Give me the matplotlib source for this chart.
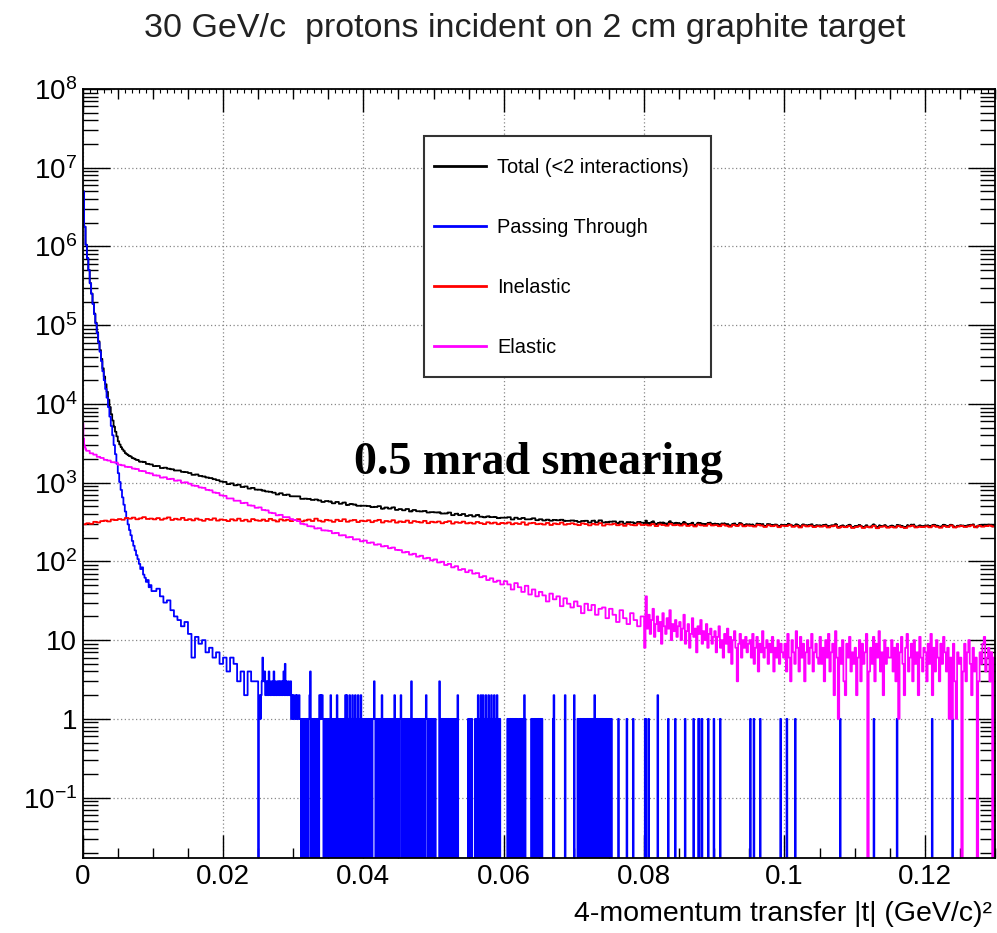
import numpy as np
import matplotlib
matplotlib.use("Agg")
import matplotlib.pyplot as plt
from matplotlib.patches import Rectangle
from matplotlib.ticker import FixedLocator, NullFormatter, FuncFormatter

plt.rcParams.update({
    "font.family": "Liberation Sans",
    "mathtext.fontset": "custom",
    "mathtext.rm": "Liberation Sans",
    "mathtext.it": "Liberation Sans:italic",
    "mathtext.bf": "Liberation Sans:bold",
})

FINE = 0.0001     # finest bin width in (GeV/c)^2
T_MAX = 0.13

# ---- Passing through (blue) ----
# 0 - 0.01, bins of 0.0002
pass_head = [5.0e6, 1.78e6, 1.05e6, 7.1e5, 5.0e5, 3.4e5, 2.5e5, 1.86e5, 1.38e5, 1.05e5,
             7.9e4, 6.0e4, 4.6e4, 3.5e4, 2.6e4, 2.0e4, 1.55e4, 1.2e4, 9100, 6900,
             5250, 4000, 3000, 2300, 1740, 1320, 1020, 810, 650, 525,
             430, 355, 295, 250, 215, 182, 158, 138, 120, 107,
             93, 80, 84, 68, 62, 55, 58, 47, 50, 42]
# 0.01 - 0.025, bins of 0.0005
pass_mid = [42, 45, 36, 30, 32, 24, 20, 18, 15, 17,
            12, 6, 11, 9, 10, 7, 8, 6, 7, 5,
            6, 4, 6, 5, 3, 4, 2, 4, 3, 3]
# 0.025 - 0.13, one digit (counts) per 0.0001 bin, groups of 0.001
pass_tail = [
    "0121236434", "2323243223", "3242322323", "2323234252", "3223223121",
    "2112121121", "1010110101", "1012401010", "1001010212", "1210101001",
    "0102010101", "1020100101", "0101202010", "2010201020", "1020102010",
    "1010101101", "0101131010", "1010102101", "1010110101", "0101201010",
    "1012101010", "1010101031", "0101010101", "1010101012", "1010101101",
    "1010000030", "1010101010", "1101010101", "0101200000", "0000000001",
    "0101100001", "0102010201", "2010201020", "1020102010", "2010100000",
    "0000010101", "1010101010", "0101010102", "1000000001", "0101010101",
    "1010100000", "0000000000", "1200000000", "0000000200", "0000000000",
    "2000010101", "0101010101", "1010101012", "0101010101", "1010101010",
    "1001000000", "0001000000", "0000010000", "0000100000", "0000000000",
    "0110001000", "0000000002", "0000000000", "0000100000", "0000100000",
    "0000000010", "0000000000", "1000000110", "0010000000", "0100000001",
    "0000000010", "0000000000", "0000000000", "0000000000", "0000000000",
    "0100001000", "0000010000", "0000000000", "0000000000", "0000100000",
    "0001000000", "0000010000", "0000000000", "0000000000", "0000000000",
    "0000000000", "0000000000", "0000000001", "0000000000", "0000000000",
    "0000000000", "0000000000", "0000000100", "0000000000", "0000000000",
    "0000000000", "1000000000", "0000000000", "0000000000", "0000000000",
    "0000000000", "1000000000", "0000000000", "0000000001", "0000000000",
    "0000000000", "0000000000", "0000000000", "0000000000", "0000000000",
]

# ---- Inelastic (red), bins of 0.0005 from 0 ----
inel = [296, 305, 300, 318, 312, 325, 330, 322, 340, 335,
        345, 338, 356, 349, 360, 343, 352, 365, 346, 350,
        342, 355, 338, 350, 362, 336, 348, 340, 357, 335,
        344, 332, 350, 338, 328, 346, 337, 352, 330, 341,
        336, 325, 343, 331, 349, 327, 338, 322, 345, 333,
        328, 340, 326, 347, 333, 321, 342, 330, 338, 325,
        335, 344, 322, 331, 340, 326, 349, 329, 320, 337,
        331, 318, 338, 325, 343, 319, 330, 336, 316, 329,
        324, 333, 315, 328, 337, 312, 326, 320, 334, 311,
        322, 316, 330, 309, 325, 318, 312, 327, 306, 319,
        313, 321, 305, 316, 324, 302, 315, 309, 320, 304,
        310, 302, 317, 306, 298, 314, 303, 311, 297, 308,
        303, 312, 296, 306, 299, 314, 292, 305, 309, 297,
        301, 294, 308, 290, 303, 297, 311, 293, 299, 305,
        296, 289, 304, 298, 287, 300, 293, 306, 285, 297,
        294, 301, 288, 296, 283, 299, 291, 287, 302, 290,
        293, 286, 298, 281, 295, 290, 284, 300, 288, 292,
        285, 296, 282, 291, 278, 294, 287, 283, 297, 286,
        289, 280, 293, 284, 276, 290, 282, 295, 279, 286,
        283, 277, 291, 285, 274, 288, 280, 286, 272, 284,
        281, 289, 275, 283, 270, 286, 278, 284, 273, 280,
        276, 283, 270, 279, 285, 268, 277, 272, 281, 266,
        274, 280, 266, 276, 270, 283, 264, 275, 279, 268,
        275, 269, 281, 272, 266, 278, 284, 270, 276, 273,
        279, 271, 284, 275, 268, 281, 274, 286, 270, 277,
        282, 274, 279, 287, 271, 283, 276, 281, 285, 278]

# ---- Elastic (magenta) ----
# 0 - 0.0005, bins of 0.0001
el_head = [5600, 3600, 3000, 2800, 2650]
# 0.0005 - 0.08, bins of 0.0005
el = [2540, 2360, 2270, 2130, 2060, 1950, 1910, 1820, 1800,
      1690, 1660, 1590, 1580, 1510, 1490, 1410, 1400, 1330, 1310,
      1240, 1230, 1160, 1170, 1110, 1120, 1060, 1070, 1000, 1010,
      970, 920, 910, 870, 860, 810, 800, 750, 740, 690,
      680, 630, 630, 590, 590, 550, 555, 515, 510, 480,
      485, 450, 445, 415, 410, 385, 390, 365, 365, 345,
      335, 325, 300, 295, 280, 278, 262, 264, 248, 247,
      244, 228, 230, 214, 215, 202, 204, 190, 191, 180,
      184, 172, 174, 163, 165, 155, 157, 147, 150, 140,
      139, 130, 132, 122, 125, 115, 118, 109, 111, 103,
      106, 97, 99, 90, 93, 84, 87, 78, 80, 73,
      77, 70, 71, 63, 65, 58, 61, 55, 57, 51,
      56, 51, 44, 53, 47, 41, 49, 38, 44, 36,
      41, 37, 31, 39, 33, 36, 27, 34, 29, 26,
      31, 27, 22, 29, 24, 28, 21, 25, 26, 19,
      25, 21, 17, 24, 19, 16, 22, 18, 15, 20]
# 0.08 - 0.13, bins of 0.0002
el_tail = [8, 36, 14, 21, 12, 18, 25, 11, 16, 20, 13, 17, 9, 22, 15, 12, 19, 14, 24, 10, 16, 13, 18, 11, 15,
           17, 10, 14, 21, 9, 13, 16, 8, 12, 19, 11, 14, 7, 15, 12, 18, 9, 13, 10, 16, 8, 12, 14, 9, 11,
           13, 7, 11, 15, 8, 10, 6, 12, 9, 14, 7, 11, 5, 10, 13, 8, 3, 9, 12, 6, 10, 8, 11, 7, 9,
           10, 6, 12, 5, 8, 11, 4, 9, 7, 13, 6, 8, 10, 5, 9, 7, 11, 4, 8, 6, 10, 5, 9, 7, 6,
           9, 4, 12, 6, 3, 10, 7, 5, 13, 8, 4, 11, 6, 9, 3, 7, 10, 5, 8, 12, 4, 7, 9, 6, 5,
           11, 5, 8, 3, 10, 6, 12, 4, 7, 9, 2, 13, 6, 1, 8, 5, 10, 3, 2, 9, 6, 11, 4, 7, 5,
           8, 2, 6, 10, 3, 9, 5, 7, 12, 0, 4, 8, 5, 11, 3, 9, 6, 13, 4, 7, 2, 10, 5, 8, 6,
           6, 10, 4, 8, 3, 9, 1, 7, 11, 5, 2, 8, 12, 4, 6, 9, 3, 10, 5, 7, 2, 11, 6, 4, 8,
           7, 3, 9, 5, 12, 2, 8, 4, 10, 6, 3, 9, 5, 11, 7, 4, 8, 1, 6, 1, 9, 3, 1, 7, 5,
           6, 0, 4, 9, 3, 7, 10, 5, 2, 8, 4, 6, 0, 3, 7, 5, 9, 11, 4, 6, 8, 3, 7, 0, 6]

legend_labels = ["Total (<2 interactions)", "Passing Through", "Inelastic", "Elastic"]
colors = ["black", "#0000ff", "#ff0000", "#ff00ff"]


def to_fine(values, width):
    return np.repeat(np.asarray(values, dtype=float), int(round(width / FINE)))


h_pass = np.concatenate([to_fine(pass_head, 0.0002), to_fine(pass_mid, 0.0005),
                         np.array([int(c) for c in "".join(pass_tail)], dtype=float)])
h_inel = to_fine(inel, 0.0005)
h_el = np.concatenate([to_fine(el_head, FINE), to_fine(el, 0.0005), to_fine(el_tail, 0.0002)])
h_total = h_pass + h_inel + h_el
edges = np.arange(len(h_total) + 1) * FINE

W, H = 997, 933
fig = plt.figure(figsize=(W / 100, H / 100), dpi=100)
ax = fig.add_axes([82.7 / W, 75 / H, 912.3 / W, 769 / H])


def draw(h, color, label):
    y = np.where(h > 0, h, 1e-3)   # empty bins drop to the bottom, as in ROOT
    ax.step(edges, np.append(y, y[-1]), where="post", color=color, lw=1.3, label=label)


for h, c, lab in zip([h_total, h_pass, h_inel, h_el], colors, legend_labels):
    draw(h, c, lab)

ax.set_yscale("log")
ax.set_xlim(0, T_MAX)
ax.set_ylim(0.0171, 1e8)

# x ticks
ax.xaxis.set_major_locator(FixedLocator(np.arange(0, 0.121, 0.02)))
ax.xaxis.set_minor_locator(FixedLocator(np.arange(0, 0.1301, 0.005)))
ax.xaxis.set_major_formatter(FuncFormatter(lambda v, p: "0" if abs(v) < 1e-9 else "%g" % v))

# y ticks (only inside the visible range)
decades = np.arange(-1, 9)
ax.yaxis.set_major_locator(FixedLocator(10.0 ** decades))
ax.yaxis.set_minor_locator(FixedLocator([m * 10.0 ** d for d in range(-2, 8)
                                         for m in range(2, 10) if m * 10.0 ** d > 0.0171]))
ax.yaxis.set_minor_formatter(NullFormatter())


def ylab(v, pos):
    e = int(round(np.log10(v)))
    if e == 0:
        return "1"
    if e == 1:
        return "10"
    return r"$\mathregular{10^{%d}}$" % e


ax.yaxis.set_major_formatter(FuncFormatter(ylab))

ax.tick_params(which="both", direction="in", top=True, right=True, color="black")
ax.tick_params(axis="x", which="major", length=16.5, width=1, labelsize=20, pad=4)
ax.tick_params(axis="x", which="minor", length=7.5, width=1)
ax.tick_params(axis="y", which="major", length=19.5, width=1, labelsize=20, pad=4)
ax.tick_params(axis="y", which="minor", length=10.8, width=1)

# tiny ticks along the top edge
sec = ax.secondary_xaxis("top")
sec.set_xticks(np.arange(0, 0.1301, 0.001))
sec.tick_params(direction="in", length=3, width=0.8, labeltop=False)
sec.spines["top"].set_visible(False)

for s in ax.spines.values():
    s.set_linewidth(1.3)

ax.grid(which="major", color="#888888", linestyle=(0, (1, 2)), lw=0.9)
ax.set_axisbelow(True)

ax.set_xlabel("4-momentum transfer |t| (GeV/c)\u00b2", fontsize=20.5, ha="right", va="baseline")
ax.xaxis.set_label_coords(0.9967, -(921 - 858) / 769)

# legend: frame drawn separately so the padding can match the original box
ax.add_patch(Rectangle(((424 - 82.7) / 912.3, (858 - 377) / 769), 287 / 912.3, 241 / 769,
                       transform=ax.transAxes, facecolor="white", edgecolor="#333333",
                       lw=1.5, zorder=4))
leg = ax.legend(loc="upper left", bbox_to_anchor=((434 - 82.7) / 912.3, (858 - 158) / 769),
                borderaxespad=0, borderpad=0, fontsize=14.4, handlelength=2.6,
                handletextpad=0.55, labelspacing=2.05, frameon=False)
leg.set_zorder(5)
for ln in leg.get_lines():
    ln.set_linewidth(2)

fig.text(525 / W, 1 - 28 / H, "30 GeV/c  protons incident on 2 cm graphite target",
         ha="center", va="center", fontsize=24.5, color="#222222")
fig.text(538 / W, 1 - 474 / H, "0.5 mrad smearing", ha="center", va="baseline",
         fontsize=33, family="Liberation Serif", weight="bold")

fig.savefig("out.png", dpi=100)
